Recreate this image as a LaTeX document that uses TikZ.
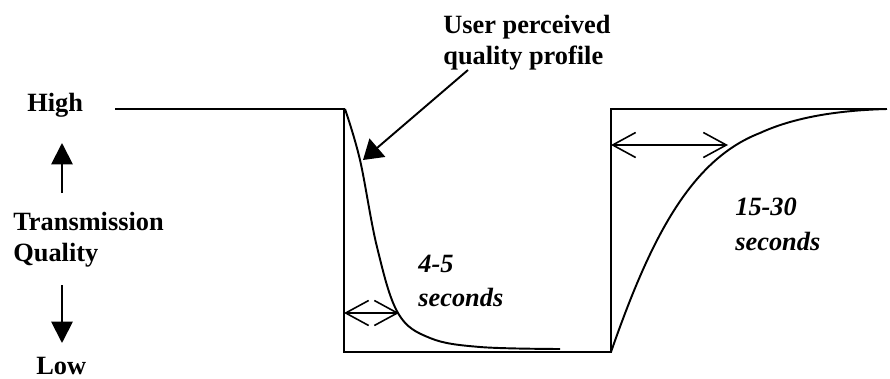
\documentclass[tikz,border=0pt]{standalone}
\usepackage{fontspec}
\setmainfont{Liberation Serif}
\usetikzlibrary{arrows.meta}
\tikzset{
  labeltext/.style={
    font=\fontsize{15}{17.5}\selectfont\bfseries,
    inner sep=0pt, align=left
  },
  timetext/.style={
    font=\fontsize{15}{19.5}\selectfont\bfseries\itshape,
    inner sep=0pt, align=left
  },
  profline/.style={line width=1.1pt, line join=miter},
  qarrow/.style={
    -{Triangle[length=0.43cm, width=0.43cm]}, line width=1.1pt
  },
  pointarrow/.style={
    -{Triangle[length=0.38cm, width=0.48cm]}, line width=1.1pt
  },
  spanarrow/.style={
    {Straight Barb[length=0.46cm, width=0.5cm]}-{Straight Barb[length=0.46cm, width=0.5cm]},
    line width=0.9pt
  },
}

\begin{document}
\begin{tikzpicture}[x=0.02cm, y=-0.02cm]
  \useasboundingbox (0,0) rectangle (890,379);

  % axis labels
  \node[labeltext, anchor=north west] (high) at (27,93) {High};
  \node[labeltext, anchor=north west] (qual) at (13,212) {Transmission\\Quality};
  \node[labeltext, anchor=north west] (low) at (36,357) {Low};

  % up / down arrows beside the label
  \coordinate (upfrom) at (62,193);
  \coordinate (upto) at (62,143);
  \coordinate (downfrom) at (62,285);
  \coordinate (downto) at (62,343);
  \draw[qarrow] (upfrom) -- (upto);
  \draw[qarrow] (downfrom) -- (downto);

  % transmission quality step
  \coordinate (hstart) at (115,109);
  \coordinate (droptop) at (344,109);
  \coordinate (dropbot) at (344,352);
  \coordinate (risebot) at (611,352);
  \coordinate (risetop) at (611,109);
  \coordinate (hend) at (887,109);
  \draw[profline] (hstart) -- (droptop) -- (dropbot) -- (risebot) -- (risetop) -- (hend);

  % perceived quality curves
  \draw[profline] plot[smooth, tension=0.6] coordinates {
    (345,109) (360,160) (377,247) (398,313) (430,338) (480,347) (560,349)};
  \draw[profline] (risebot) .. controls (650,240) and (690,160) .. (760,133)
    .. controls (800,114.5) and (850,110) .. (hend);

  % title and pointer
  \node[labeltext, anchor=north west] (profile) at (443,15) {User perceived\\quality profile};
  \coordinate (ptail) at (468,70);
  \coordinate (ptip) at (363,160);
  \draw[pointarrow] (ptail) -- (ptip);

  % time spans
  \coordinate (dspanl) at (344,313);
  \coordinate (dspanr) at (399,313);
  \draw[spanarrow] (dspanl) -- (dspanr);
  \node[timetext, anchor=north west] (dtime) at (418,255) {4-5\\seconds};

  \coordinate (rspanl) at (611,145);
  \coordinate (rspanr) at (728,145);
  \draw[spanarrow] (rspanl) -- (rspanr);
  \node[timetext, anchor=north west] (rtime) at (735,198) {15-30\\seconds};
\end{tikzpicture}
\end{document}
